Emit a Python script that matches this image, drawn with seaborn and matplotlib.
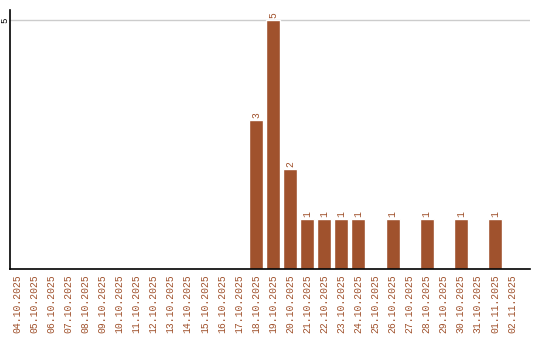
import matplotlib
matplotlib.use("Agg")
import matplotlib.pyplot as plt
import seaborn as sns
import pandas as pd

dates = ["04.10.2025", "05.10.2025", "06.10.2025", "07.10.2025", "08.10.2025",
         "09.10.2025", "10.10.2025", "11.10.2025", "12.10.2025", "13.10.2025",
         "14.10.2025", "15.10.2025", "16.10.2025", "17.10.2025", "18.10.2025",
         "19.10.2025", "20.10.2025", "21.10.2025", "22.10.2025", "23.10.2025",
         "24.10.2025", "25.10.2025", "26.10.2025", "27.10.2025", "28.10.2025",
         "29.10.2025", "30.10.2025", "31.10.2025", "01.11.2025", "02.11.2025"]
counts = [0, 0, 0, 0, 0, 0, 0, 0, 0, 0, 0, 0, 0, 0, 3,
          5, 2, 1, 1, 1, 1, 0, 1, 0, 1, 0, 1, 0, 1, 0]
yticks = [5]

color = "#A0522D"
sns.set_style("white")
plt.rcParams['font.family'] = ['Liberation Mono', 'DejaVu Sans Mono']

df = pd.DataFrame({"date": dates, "count": counts})

fig = plt.figure(figsize=(5.4, 3.4), dpi=100)
ax = fig.add_axes([10/540, 1 - 269/340, 520/540, 259/340])
sns.barplot(data=df, x="date", y="count", color=color, saturation=1, width=0.82, ax=ax, order=dates)

for i, v in enumerate(counts):
    if v > 0:
        ax.text(i, v + 0.04, str(v), rotation=90, ha="center", va="bottom",
                fontsize=7, color=color)

ax.set_xlim(-0.41, 30.05)
ax.set_ylim(0, 5.2)
ax.set_yticks(yticks)
ax.set_yticklabels([str(t) for t in yticks], rotation=90, va="center", ha="center",
                   fontsize=6.5, color="black")
ax.tick_params(axis="y", length=0, pad=3.6)
ax.tick_params(axis="x", length=0, pad=4, labelsize=7, labelcolor=color)
plt.setp(ax.get_xticklabels(), rotation=90)
ax.yaxis.grid(True, color="#cccccc", linewidth=1)
ax.set_axisbelow(True)
ax.set_xlabel("")
ax.set_ylabel("")
for s in ["top", "right"]:
    ax.spines[s].set_visible(False)
for s in ["left", "bottom"]:
    ax.spines[s].set_color("black")
    ax.spines[s].set_linewidth(1.2)

fig.savefig("out.png", dpi=100, facecolor="white")
